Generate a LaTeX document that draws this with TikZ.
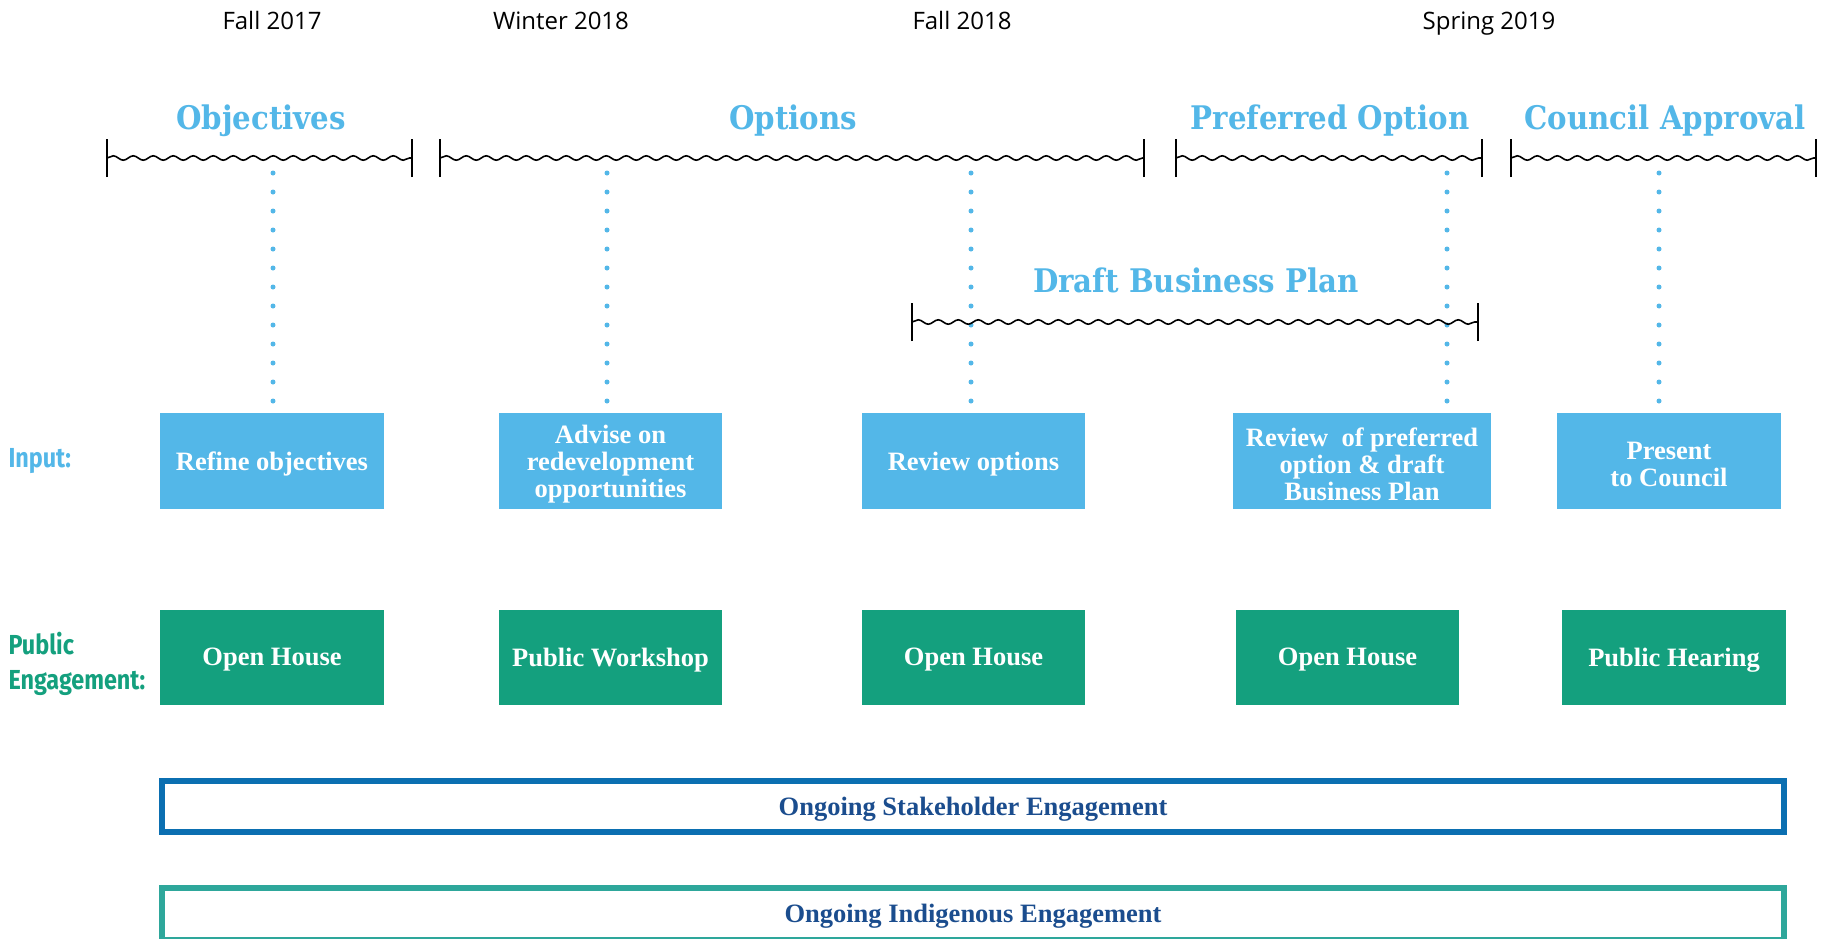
\documentclass[tikz,border=0pt]{standalone}
\usepackage{fontspec}
\setmainfont{Liberation Serif}
\newfontfamily\datefont{Open Sans}
\newfontfamily\headfont{DejaVu Serif}[FakeStretch=0.9]
\newfontfamily\lblfont{Fira Sans}[FakeStretch=0.85]
\usetikzlibrary{decorations.pathmorphing}
\definecolor{lblue}{HTML}{53B7E8}
\definecolor{pgreen}{HTML}{14A07E}
\definecolor{sblue}{HTML}{0B6FB1}
\definecolor{stext}{HTML}{1B4D8E}
\definecolor{iteal}{HTML}{2EA79B}
\begin{document}
\begin{tikzpicture}[x=1pt,y=-1pt,
  date/.style={font=\datefont\fontsize{24}{28}\selectfont, text=black, anchor=base},
  head/.style={font=\headfont\bfseries\fontsize{32.5}{36}\selectfont, text=lblue},
  lbl/.style={font=\lblfont\bfseries\fontsize{27.5}{35}\selectfont, anchor=west, align=left},
  inbox/.style={fill=lblue, inner sep=0pt, minimum height=96pt},
  pebox/.style={fill=pgreen, inner sep=0pt, minimum height=95pt},
  boxtext/.style={text=white, font=\bfseries\fontsize{26.5}{27}\selectfont, align=center, inner sep=0pt},
  wave/.style={line width=1.6pt, decorate, decoration={snake, segment length=20pt, amplitude=2.2pt}},
  bar/.style={line width=1.5pt},
  dotline/.style={lblue, line width=5pt, line cap=round, dash pattern=on 0pt off 19pt},
  bandbox/.style={line width=6pt, minimum width=1622pt, inner sep=0pt},
  bandtext/.style={text=stext, font=\bfseries\fontsize{26.5}{27}\selectfont, inner sep=0pt}
]
\clip (0,0) rectangle (1821,938);
\fill[white] (0,0) rectangle (1821,938);

% dates
\node[date] (d1) at (272,29) {Fall 2017};
\node[date] (d2) at (561,29) {Winter 2018};
\node[date] (d3) at (962,29) {Fall 2018};
\node[date] (d4) at (1489,29) {Spring 2019};

% headings
\node[head] (hObj) at (261,120.5) {Objectives};
\node[head] (hOpt) at (793,120.5) {Options};
\node[head] (hPref) at (1330,120.5) {Preferred Option};
\node[head] (hCoun) at (1665,120.5) {Council Approval};
\node[head] (hDraft) at (1196,280) {Draft Business Plan};

% brace coordinates
\coordinate (objL) at (107,158);  \coordinate (objR) at (412,158);
\coordinate (optL) at (440,158);  \coordinate (optR) at (1144,158);
\coordinate (prfL) at (1176,158); \coordinate (prfR) at (1482,158);
\coordinate (couL) at (1511,158); \coordinate (couR) at (1816,158);
\coordinate (drfL) at (912,322);  \coordinate (drfR) at (1478,322);

% dotted guide coordinates
\coordinate (t1) at (273,173); \coordinate (b1) at (273,403);
\coordinate (t2) at (607,173); \coordinate (b2) at (607,403);
\coordinate (t3) at (971,173); \coordinate (b3) at (971,403);
\coordinate (t4) at (1447,173); \coordinate (b4) at (1447,403);
\coordinate (t5) at (1659,173); \coordinate (b5) at (1659,403);

\foreach \i in {1,...,5} {\draw[dotline] (t\i) -- (b\i);}

\foreach \p in {obj,opt,prf,cou,drf} {
  \draw[wave] (\p L) -- (\p R);
  \draw[bar] ([yshift=-19pt]\p L) -- ([yshift=19pt]\p L);
  \draw[bar] ([yshift=-19pt]\p R) -- ([yshift=19pt]\p R);
}

% labels
\node[lbl, text=lblue] (lin) at (5,461.5) {Input:};
\node[lbl, text=pgreen] (lpe) at (5,663.5) {Public\\Engagement:};

% input boxes
\node[inbox, minimum width=224pt] (i1) at (272,461) {};
\node[inbox, minimum width=223pt] (i2) at (610.5,461) {};
\node[inbox, minimum width=223pt] (i3) at (973.5,461) {};
\node[inbox, minimum width=258pt] (i4) at (1362,461) {};
\node[inbox, minimum width=224pt] (i5) at (1669,461) {};
\node[boxtext] (i1t) at ([yshift=-3pt]i1.center) {Refine objectives};
\node[boxtext] (i2t) at ([yshift=-3.5pt]i2.center) {Advise on\\redevelopment\\opportunities};
\node[boxtext] (i3t) at ([yshift=-3pt]i3.center) {Review options};
\node[boxtext] (i4t) at ([yshift=-3.5pt]i4.center) {Review~ of preferred\\option \& draft\\Business Plan};
\node[boxtext] (i5t) at ([yshift=-3pt]i5.center) {Present\\to Council};

% public engagement boxes
\node[pebox, minimum width=224pt] (p1) at (272,657.5) {};
\node[pebox, minimum width=223pt] (p2) at (610.5,657.5) {};
\node[pebox, minimum width=223pt] (p3) at (973.5,657.5) {};
\node[pebox, minimum width=223pt] (p4) at (1347.5,657.5) {};
\node[pebox, minimum width=224pt] (p5) at (1674,657.5) {};
\node[boxtext] (p1t) at ([yshift=-2.5pt]p1.center) {Open House};
\node[boxtext] (p2t) at ([yshift=-2.5pt]p2.center) {Public Workshop};
\node[boxtext] (p3t) at ([yshift=-2.5pt]p3.center) {Open House};
\node[boxtext] (p4t) at ([yshift=-2.5pt]p4.center) {Open House};
\node[boxtext] (p5t) at ([yshift=-2.5pt]p5.center) {Public Hearing};

% ongoing bands
\node[bandbox, draw=sblue, minimum height=51pt] (stk) at (973,806.5) {};
\node[bandtext] (stkt) at ([yshift=-3pt]stk.center) {Ongoing Stakeholder Engagement};
\node[bandbox, draw=iteal, minimum height=52pt] (ind) at (973,914) {};
\node[bandtext] (indt) at ([yshift=-2.5pt]ind.center) {Ongoing Indigenous Engagement};
\end{tikzpicture}
\end{document}
